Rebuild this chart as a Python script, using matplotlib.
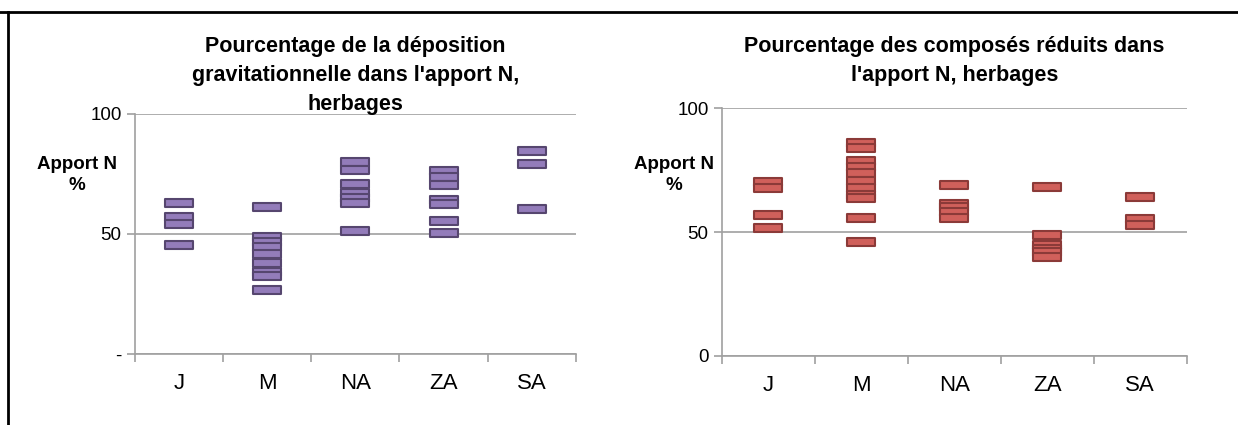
import matplotlib
matplotlib.use('Agg')
import matplotlib.pyplot as plt
from matplotlib import font_manager
from matplotlib.path import Path
from matplotlib.lines import Line2D

regions = ['J', 'M', 'NA', 'ZA', 'SA']

# % deposition gravitationnelle, herbages
grav_J = [62.8, 57.0, 54.2, 45.3]
grav_M = [61.1, 48.9, 46.8, 44.7, 41.7, 38.0, 34.3, 32.5, 26.5]
grav_NA = [80.1, 76.7, 70.7, 66.9, 64.9, 63.0, 51.4]
grav_ZA = [76.3, 73.6, 70.3, 64.2, 62.5, 55.3, 50.5]
grav_SA = [84.7, 79.2, 60.5]

# % composes reduits, herbages
red_J = [70.2, 67.7, 57.1, 51.7]
red_M = [85.8, 84.1, 78.7, 76.2, 74.0, 70.6, 67.9, 64.9, 63.6, 55.7, 46.0]
red_NA = [69.0, 61.5, 60.2, 58.0, 55.6]
red_ZA = [68.3, 48.7, 44.7, 43.3, 42.0, 39.8]
red_SA = [64.1, 55.5, 52.8]

names = {f.name for f in font_manager.fontManager.ttflist}
font = 'Liberation Sans Narrow' if 'Liberation Sans Narrow' in names else 'Liberation Sans'
plt.rcParams['font.family'] = [font, 'DejaVu Sans']

dash = Path([(-1, -0.28), (1, -0.28), (1, 0.28), (-1, 0.28), (-1, -0.28)],
            [Path.MOVETO, Path.LINETO, Path.LINETO, Path.LINETO, Path.CLOSEPOLY])

fig = plt.figure(figsize=(12.38, 4.25), dpi=100)
fig.add_artist(Line2D([0, 1], [1 - 12 / 425, 1 - 12 / 425], color='black', lw=2))
fig.add_artist(Line2D([8 / 1238, 8 / 1238], [0, 1 - 12 / 425], color='black', lw=2))


def panel(rect, groups, face, edge, title, ylabels, title_y, lab_x):
    ax = fig.add_axes(rect)
    for i, vals in enumerate(groups):
        ax.plot([i + 0.5] * len(vals), vals, ls='none', marker=dash, ms=20.5,
                mfc=face, mec=edge, mew=1.5)
    ax.set_xlim(0, 5)
    ax.set_ylim(0, 100)
    ax.set_yticks([0, 50, 100])
    ax.set_yticklabels(ylabels, fontsize=13.5)
    ax.set_xticks(range(6))
    ax.set_xticklabels([])
    ax.set_xticks([i + 0.5 for i in range(5)], minor=True)
    ax.set_xticklabels(regions, minor=True, fontsize=16)
    ax.tick_params(axis='x', which='minor', length=0, pad=14)
    ax.tick_params(axis='both', which='major', length=6, color='#a0a0a0', width=1.2)
    ax.grid(axis='y', color='#a0a0a0', lw=1.2)
    ax.set_axisbelow(True)
    for s in ['top', 'right']:
        ax.spines[s].set_visible(False)
    for s in ['left', 'bottom']:
        ax.spines[s].set_color('#a0a0a0')
        ax.spines[s].set_linewidth(1.2)
    cx = rect[0] + rect[2] / 2
    fig.text(cx, title_y, title, ha='center', va='top', fontsize=15.5,
             fontweight='bold', linespacing=1.5)
    fig.text(lab_x, 1 - 175 / 425, 'Apport N\n%', ha='center', va='center',
             fontsize=13.5, fontweight='bold', linespacing=1.3)
    return ax


panel([134.7 / 1238, 1 - 354 / 425, 441.3 / 1238, 240 / 425],
      [grav_J, grav_M, grav_NA, grav_ZA, grav_SA], '#937cba', '#56466f',
      "Pourcentage de la déposition\ngravitationnelle dans l'apport N,\nherbages",
      ['-', '50', '100'], 1 - 36 / 425, 77 / 1238)
panel([721.7 / 1238, 1 - 356 / 425, 465 / 1238, 247.7 / 425],
      [red_J, red_M, red_NA, red_ZA, red_SA], '#d0605b', '#8b3a38',
      "Pourcentage des composés réduits dans\nl'apport N, herbages",
      ['0', '50', '100'], 1 - 36 / 425, 674 / 1238)

fig.savefig('out.png', dpi=100)
